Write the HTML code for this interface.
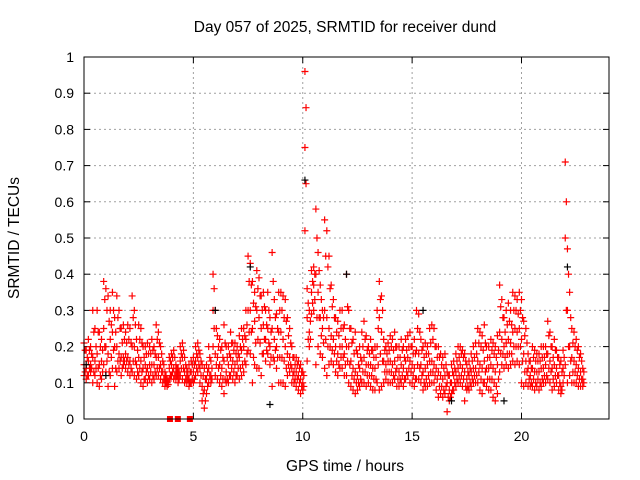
<!DOCTYPE html>
<html><head><meta charset="utf-8"><style>
body{margin:0;background:#fff}
svg{display:block;font-family:"Liberation Sans",sans-serif}
</style></head><body>
<svg id="chart" width="640" height="480" viewBox="0 0 640 480" xmlns="http://www.w3.org/2000/svg">
<rect width="640" height="480" fill="#fff"/>
<text x="345" y="32" font-size="15.5" text-anchor="middle">Day 057 of 2025, SRMTID for receiver dund</text>
<text x="345" y="471" font-size="15.5" text-anchor="middle">GPS time / hours</text>
<text transform="translate(19,238) rotate(-90)" font-size="15.5" text-anchor="middle">SRMTID / TECUs</text>
<g id="grid"></g><g id="ticks"></g><g id="marks"></g>
<rect x="84" y="57" width="525" height="362" fill="none" stroke="#000" stroke-width="1"/>
</svg>
<script>
const xTicks=[0,5,10,15,20];
const yTicks=[0,0.1,0.2,0.3,0.4,0.5,0.6,0.7,0.8,0.9,1];
const yTickLabels=["0","0.1","0.2","0.3","0.4","0.5","0.6","0.7","0.8","0.9","1"];
const timeStep=0.1;
const redHi=[.21,.19,.22,.2,.3,.25,.3,.24,.22,.38, .36,.34,.3,.35,.28,.34,.3,.25,.26,.24, .26,.25,.34,.3,.22,.26,.25,.2,.2,.21, .2,.22,.2,.26,.24,.2,.16,.13,.11,.17, .18,.19,.15,.14,.2,.21,.17,.14,.15,.16, .17,.2,.21,.18,.15,.14,.15,.2,.16,.4, .3,.23,.22,.2,.26,.2,.2,.24,.21,.21, .2,.23,.25,.25,.3,.45,.43,.38,.35,.41, .39,.34,.35,.3,.35,.28,.46,.33,.29,.35, .35,.34,.33,.28,.25,.2,.17,.17,.16,.15, .13,.96,.36,.3,.41,.42,.58,.46,.37,.3, .55,.52,.45,.37,.33,.28,.27,.3,.3,.26, .4,.3,.25,.22,.24,.18,.2,.24,.27,.23, .2,.22,.19,.2,.3,.38,.34,.22,.2,.21, .23,.22,.24,.2,.2,.22,.2,.22,.23,.24, .2,.22,.3,.29,.22,.2,.21,.2,.25,.26, .25,.2,.2,.18,.17,.18,.13,.12,.15,.16, .18,.2,.2,.19,.18,.15,.16,.18,.2,.21, .25,.24,.23,.26,.2,.2,.22,.21,.2,.23, .37,.33,.28,.3,.32,.3,.35,.34,.33,.35, .33,.27,.25,.18,.16,.2,.19,.18,.18,.2, .2,.2,.27,.24,.2,.22,.19,.17,.16,.19, .71,.47,.35,.25,.24,.22,.2,.18,.14];
const redQ3=[.19,.17,.19,.18,.24,.2,.24,.2,.19,.33, .3,.27,.26,.3,.24,.28,.25,.21,.22,.21, .22,.21,.28,.26,.19,.22,.21,.17,.18,.18, .18,.19,.18,.22,.21,.18,.15,.12,.105,.16, .17,.17,.14,.13,.18,.19,.15,.13,.13,.15, .15,.18,.19,.16,.12,.11,.13,.17,.14,.36, .25,.2,.19,.17,.21,.17,.18,.21,.19,.18, .18,.2,.22,.23,.26,.38,.37,.32,.31,.36, .34,.3,.31,.26,.3,.24,.38,.28,.25,.3, .3,.28,.27,.23,.21,.17,.15,.15,.14,.13, .12,.86,.32,.27,.38,.4,.5,.41,.33,.28, .45,.42,.36,.31,.28,.24,.23,.25,.25,.22, .31,.25,.21,.18,.19,.15,.17,.2,.22,.19, .18,.19,.17,.17,.25,.33,.3,.19,.18,.19, .2,.19,.2,.17,.17,.19,.17,.19,.2,.2, .18,.18,.25,.24,.19,.17,.18,.18,.21,.22, .2,.17,.17,.15,.14,.15,.12,.1,.13,.14, .16,.17,.18,.17,.16,.13,.14,.16,.17,.18, .21,.2,.19,.21,.17,.17,.19,.18,.17,.19, .31,.28,.24,.26,.27,.26,.3,.3,.29,.3, .28,.23,.21,.16,.14,.17,.16,.16,.16,.17, .17,.18,.23,.2,.17,.19,.17,.15,.13,.17, .6,.4,.28,.21,.2,.19,.17,.16,.13];
const redMid=[.15,.14,.16,.15,.17,.16,.18,.15,.16,.25, .2,.18,.22,.24,.2,.2,.18,.17,.17,.18, .17,.16,.2,.2,.15,.17,.16,.14,.15,.14, .15,.15,.15,.17,.17,.15,.13,.11,.1,.14, .15,.14,.13,.12,.16,.17,.13,.12,.11,.13, .13,.16,.17,.14,.09,.08,.11,.14,.12,.3, .18,.17,.15,.14,.16,.13,.15,.17,.16,.15, .16,.17,.19,.2,.22,.3,.3,.25,.27,.3, .28,.25,.26,.22,.25,.2,.25,.22,.2,.24, .24,.22,.2,.18,.17,.14,.13,.13,.12,.11, .1,.75,.28,.24,.35,.37,.4,.35,.28,.25, .3,.28,.25,.23,.22,.2,.18,.2,.2,.18, .2,.2,.16,.14,.13,.12,.14,.16,.17,.15, .15,.15,.14,.14,.2,.28,.24,.16,.15,.16, .16,.15,.16,.14,.13,.15,.14,.16,.17,.16, .15,.14,.19,.18,.15,.13,.14,.15,.16,.16, .15,.14,.13,.12,.11,.12,.1,.08,.1,.12, .13,.14,.15,.14,.13,.11,.12,.13,.14,.14, .16,.15,.14,.16,.14,.14,.15,.14,.13,.15, .24,.22,.2,.21,.22,.21,.24,.25,.24,.25, .22,.18,.16,.14,.12,.14,.13,.13,.13,.14, .14,.15,.18,.16,.14,.15,.14,.12,.09,.14, .5,.3,.2,.17,.16,.15,.14,.13,.11];
const redQ1=[.13,.12,.14,.14,.13,.14,.14,.12,.13,.2, .16,.13,.17,.19,.14,.16,.16,.14,.16,.16, .15,.14,.16,.16,.13,.14,.13,.11,.13,.12, .13,.12,.13,.14,.14,.13,.11,.1,.095,.12, .13,.12,.12,.11,.14,.14,.11,.11,.1,.11, .11,.14,.15,.12,.07,.05,.09,.12,.11,.25, .15,.14,.12,.11,.11,.11,.12,.14,.13,.12, .14,.14,.15,.16,.18,.24,.24,.17,.21,.22, .21,.18,.22,.19,.21,.17,.17,.19,.17,.17, .17,.16,.14,.15,.15,.12,.11,.11,.1,.09, .09,.65,.22,.22,.32,.33,.28,.28,.23,.21, .22,.2,.2,.19,.18,.16,.15,.17,.17,.15, .16,.15,.12,.11,.1,.1,.11,.13,.13,.12, .12,.12,.11,.11,.15,.18,.16,.13,.13,.13, .13,.12,.13,.11,.11,.12,.11,.13,.14,.13, .12,.11,.15,.14,.12,.1,.11,.12,.13,.13, .12,.11,.09,.09,.08,.09,.06,.06,.08,.1, .11,.12,.12,.11,.09,.09,.1,.11,.12,.12, .13,.11,.1,.13,.11,.11,.11,.1,.09,.11, .18,.18,.17,.18,.18,.18,.2,.2,.2,.2, .16,.13,.13,.11,.1,.11,.1,.11,.1,.11, .12,.12,.14,.13,.11,.12,.12,.1,.08,.12, .3,.2,.16,.13,.13,.12,.11,.11,.1];
const redLo=[.12,.11,.12,.13,.1,.12,.1,.09,.11,.15, .13,.09,.12,.14,.09,.13,.14,.12,.15,.14, .13,.12,.13,.12,.11,.12,.1,.09,.11,.1, .11,.1,.11,.12,.12,.11,.1,.09,.09,.11, .12,.11,.11,.1,.12,.11,.1,.1,.09,.1, .1,.12,.13,.1,.05,.03,.07,.1,.1,.2, .12,.11,.1,.09,.07,.1,.1,.12,.11,.1, .12,.11,.12,.13,.15,.19,.18,.1,.15,.14, .14,.12,.18,.16,.18,.15,.09,.16,.14,.1, .1,.1,.09,.12,.13,.1,.1,.09,.08,.07, .08,.52,.16,.2,.29,.3,.15,.2,.18,.17, .14,.12,.15,.16,.15,.13,.12,.14,.14,.12, .12,.1,.09,.08,.07,.08,.09,.1,.1,.09, .1,.09,.08,.08,.1,.08,.09,.1,.11,.1, .1,.1,.11,.09,.09,.1,.09,.11,.12,.1, .1,.09,.11,.11,.1,.08,.09,.09,.1,.1, .1,.08,.06,.07,.06,.07,.02,.05,.07,.08, .09,.1,.1,.09,.05,.08,.08,.09,.1,.1, .1,.08,.07,.1,.09,.08,.08,.06,.05,.07, .13,.15,.14,.15,.14,.15,.16,.15,.16,.15, .1,.09,.1,.09,.09,.09,.08,.09,.08,.09, .1,.1,.11,.1,.08,.09,.1,.08,.07,.1, .15,.1,.12,.1,.1,.1,.09,.09,.09];
const blackTimes=[0.1,1.0,6.0,7.6,8.5,10.1,12.0,15.5,16.8,19.2,22.1];
const blackValues=[0.15,0.12,0.3,0.42,0.04,0.66,0.4,0.3,0.05,0.05,0.42];
const squareTimes=[3.93,4.29,4.84];
const squareValues=[0,0,0];

const L=84,R=609,T=57,B=419,XMAX=24;
const xs=h=>L+(R-L)*h/XMAX;
const ys=v=>B-(B-T)*v;
const NS="http://www.w3.org/2000/svg";
function mk(tag,attrs,parent){const e=document.createElementNS(NS,tag);for(const k in attrs)e.setAttribute(k,attrs[k]);parent.appendChild(e);return e;}
const grid=document.getElementById('grid'),ticks=document.getElementById('ticks'),marks=document.getElementById('marks');
xTicks.forEach(t=>{
  const x=xs(t);
  if(t>0){const g=mk('line',{x1:x,x2:x,y1:T,y2:B,stroke:'#a0a0a0','stroke-dasharray':'2,3'},grid);
  
  }
  mk('line',{x1:x,x2:x,y1:B,y2:B-6,stroke:'#000'},ticks);
  mk('line',{x1:x,x2:x,y1:T,y2:T+6,stroke:'#000'},ticks);
  const tx=mk('text',{x:x,y:B+22,'font-size':14,'text-anchor':'middle'},ticks);
  
  
  tx.textContent=t;
});
yTicks.forEach((t,i)=>{
  const y=ys(t);
  if(t>0&&t<1){const g=mk('line',{x1:L,x2:R,y1:y,y2:y,stroke:'#a0a0a0','stroke-dasharray':'2,3'},grid);
  
  }
  mk('line',{x1:L,x2:L+6,y1:y,y2:y,stroke:'#000'},ticks);
  mk('line',{x1:R,x2:R-6,y1:y,y2:y,stroke:'#000'},ticks);
  const tx=mk('text',{x:L-10,y:y+5,'font-size':14,'text-anchor':'end'},ticks);
  
  
  tx.textContent=yTickLabels[i];
});
function cross(h,v,color){
  const x=xs(h),y=ys(v);
  const p=mk('path',{d:`M${x-3.5} ${y}H${x+3.5}M${x} ${y-3.5}V${y+3.5}`,stroke:color,'stroke-width':1.2,fill:'none'},marks);
  
  
}
[redLo,redMid,redHi].forEach(arr=>arr.forEach((v,i)=>cross(i*timeStep,v,'#ff0000')));
[redQ1,redQ3].forEach(arr=>arr.forEach((v,i)=>cross(i*timeStep+timeStep/2,v,'#ff0000')));
blackTimes.forEach((h,i)=>cross(h,blackValues[i],'#000'));
squareTimes.forEach((h,i)=>{
  const r=mk('rect',{x:xs(h)-3,y:ys(squareValues[i])-3,width:6,height:6,fill:'#ff0000'},marks);
  
  
});
</script>
</body></html>
